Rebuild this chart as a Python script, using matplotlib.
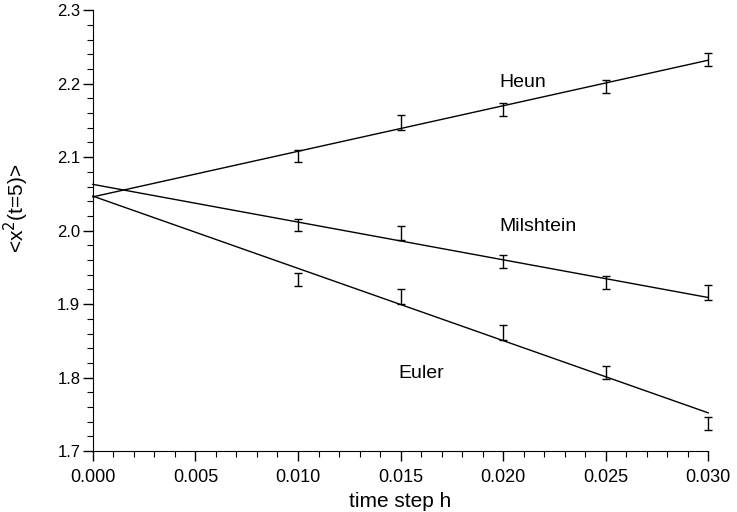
import numpy as np
import matplotlib
matplotlib.use("Agg")
import matplotlib.pyplot as plt
from matplotlib.ticker import MultipleLocator

plt.rcParams['font.family'] = ['Liberation Sans', 'DejaVu Sans']

# time steps with simulation results
h = [0.010, 0.015, 0.020, 0.025, 0.030]

heun = [2.102, 2.147, 2.165, 2.196, 2.233]
heun_err = [0.008, 0.010, 0.009, 0.009, 0.009]
milshtein = [2.008, 1.997, 1.958, 1.929, 1.916]
milshtein_err = [0.008, 0.010, 0.009, 0.009, 0.010]
euler = [1.933, 1.910, 1.861, 1.807, 1.738]
euler_err = [0.009, 0.010, 0.010, 0.009, 0.009]

# fitted lines, values at h = 0 and h = 0.030
fit_h = [0.0, 0.030]
heun_fit = [2.046, 2.232]
milshtein_fit = [2.063, 1.909]
euler_fit = [2.047, 1.752]

fig = plt.figure(figsize=(7.37, 5.12), dpi=100)
ax = fig.add_axes([0.126, 0.119, 0.835, 0.861])

for fit, vals, err in [(heun_fit, heun, heun_err),
                       (milshtein_fit, milshtein, milshtein_err),
                       (euler_fit, euler, euler_err)]:
    ax.plot(fit_h, fit, color="black", lw=1.0, clip_on=False)
    eb = ax.errorbar(h, vals, yerr=err, fmt="none", ecolor="black",
                     elinewidth=1.0, capsize=3, capthick=1.0)
    # keep the caps at h=0.030 from being cut by the axes edge
    for part in eb.lines:
        for artist in (part if isinstance(part, tuple) else [part]):
            if artist is not None:
                artist.set_clip_on(False)

ax.text(0.0198, 2.202, "Heun", fontsize=14, va="center")
ax.text(0.0198, 2.006, "Milshtein", fontsize=14, va="center")
ax.text(0.0149, 1.806, "Euler", fontsize=14, va="center")

ax.set_xlim(0, 0.030)
ax.set_ylim(1.7, 2.3)
ax.spines["top"].set_visible(False)
ax.spines["right"].set_visible(False)
ax.xaxis.set_major_locator(MultipleLocator(0.005))
ax.xaxis.set_minor_locator(MultipleLocator(0.001))
ax.yaxis.set_major_locator(MultipleLocator(0.1))
ax.yaxis.set_minor_locator(MultipleLocator(0.02))
ax.tick_params(which="major", length=7, width=1.0, direction="out")
ax.tick_params(which="minor", length=4, width=0.8, direction="out")
ax.tick_params(axis="x", labelsize=13, pad=6)
ax.tick_params(axis="y", labelsize=12, pad=2)
ax.set_xticklabels(["%.3f" % v for v in ax.get_xticks()])
ax.set_yticklabels(["%.1f" % v for v in ax.get_yticks()])
ax.get_xticklabels()[0].set_horizontalalignment("left")

ax.set_xlabel("time step h", fontsize=15, labelpad=4)
ax.set_ylabel(r"<x$^2$(t=5)>", fontsize=15)
ax.yaxis.set_label_coords(-0.1, 0.55)

fig.savefig("out.png", dpi=100)
